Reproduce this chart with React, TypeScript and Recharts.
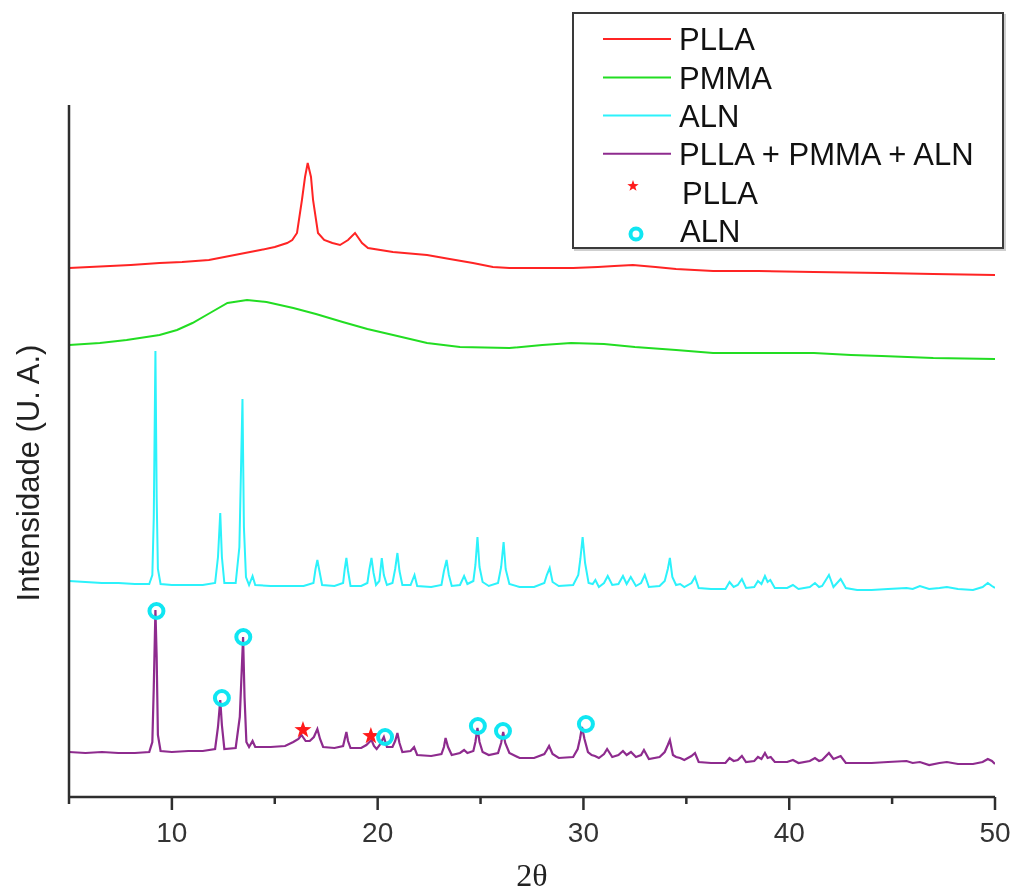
import React from 'react';
import { ComposedChart, Line, Scatter, XAxis, YAxis, Legend, Label } from 'recharts';

// X-ray diffractograms: [2θ (deg), intensity (a.u., traces offset vertically)]
const PLLA_CURVE: [number, number][] = [
  [5.0, 529], [6.0, 530], [7.0, 531], [8.0, 532], [9.4, 534], [10.5, 535], [11.8, 537], [12.8, 541],
  [14.3, 547], [15.0, 550], [15.6, 554], [15.85, 557], [16.08, 564], [16.32, 597], [16.47, 620],
  [16.6, 634], [16.76, 620], [16.86, 597], [17.1, 564], [17.4, 557], [17.8, 554], [18.17, 552],
  [18.56, 557], [18.9, 564], [19.24, 554], [19.53, 549], [20.74, 545], [22.4, 542], [23.5, 538],
  [24.63, 534], [25.6, 530], [26.4, 529], [27.5, 529], [28.3, 529], [29.5, 529], [30.7, 530],
  [31.5, 531], [32.4, 532], [33.5, 530], [34.5, 528], [36.3, 526], [38.5, 526], [41.2, 525],
  [44.5, 524], [47.0, 523], [50.0, 522],
];

const PMMA_CURVE: [number, number][] = [
  [5.0, 452], [6.5, 454], [7.8, 457], [9.4, 462], [10.25, 467], [11.0, 474], [11.85, 484],
  [12.7, 494], [13.65, 497], [14.6, 495], [15.9, 489], [17.0, 483], [18.3, 475], [19.5, 468],
  [20.75, 462], [22.4, 454], [24.0, 450], [26.4, 449], [28.0, 452], [29.4, 454], [31.0, 453],
  [32.5, 450], [34.5, 447], [36.3, 444], [38.5, 444], [41.2, 444], [43.0, 442], [44.5, 441],
  [47.0, 439], [50.0, 438],
];

const ALN_CURVE: [number, number][] = [
  [5.0, 216], [5.8, 215], [6.6, 214], [7.4, 214], [8.2, 213], [8.9, 213],
  [9.05, 222], [9.12, 280], [9.2, 446], [9.26, 300], [9.32, 228], [9.45, 213],
  [10.0, 212], [10.8, 212], [11.5, 212], [12.1, 214],
  [12.24, 240], [12.35, 284], [12.43, 240], [12.55, 214],
  [13.1, 214], [13.28, 250], [13.43, 398], [13.5, 270], [13.6, 220], [13.75, 212], [13.92, 221], [14.05, 212],
  [14.8, 211], [15.6, 211], [16.4, 211], [16.88, 214], [16.98, 228], [17.07, 237], [17.17, 226], [17.3, 212],
  [17.9, 211], [18.32, 214], [18.4, 228], [18.48, 239], [18.56, 226], [18.68, 211],
  [19.2, 211], [19.5, 214], [19.6, 228], [19.7, 239], [19.8, 224], [19.92, 212],
  [20.08, 216], [20.2, 239], [20.3, 222], [20.45, 212], [20.72, 214], [20.85, 228], [20.96, 244], [21.06, 226], [21.2, 212],
  [21.6, 212], [21.79, 222], [21.92, 211], [22.6, 210], [23.1, 212], [23.22, 226], [23.35, 237], [23.46, 222], [23.6, 211],
  [24.0, 212], [24.2, 221], [24.36, 213], [24.65, 216], [24.75, 232], [24.85, 260], [24.95, 230], [25.1, 215], [25.4, 211],
  [25.85, 214], [26.0, 230], [26.12, 255], [26.22, 228], [26.4, 213], [26.9, 210], [27.6, 210],
  [28.1, 214], [28.22, 222], [28.36, 229], [28.5, 215], [28.8, 211],
  [29.5, 212], [29.75, 222], [29.85, 238], [29.96, 260], [30.08, 234], [30.25, 214], [30.45, 213], [30.58, 217], [30.75, 210],
  [31.0, 214], [31.18, 221], [31.4, 212], [31.7, 213], [31.92, 221], [32.1, 213], [32.3, 220], [32.55, 211],
  [32.8, 214], [32.98, 222], [33.18, 210],
  [33.7, 211], [33.95, 216], [34.1, 228], [34.2, 239], [34.32, 220], [34.5, 212], [34.7, 213], [34.9, 210],
  [35.25, 214], [35.42, 220], [35.6, 209],
  [36.2, 208], [36.9, 208], [37.1, 215], [37.3, 210], [37.5, 212], [37.7, 218], [37.9, 209], [38.3, 210],
  [38.48, 216], [38.65, 213], [38.82, 221], [38.95, 215], [39.08, 217], [39.3, 209],
  [39.9, 209], [40.18, 212], [40.45, 208], [41.0, 210], [41.25, 214], [41.45, 210], [41.6, 211], [41.93, 222],
  [42.15, 210], [42.5, 218], [42.75, 209],
  [43.3, 207], [44.0, 207], [44.8, 208], [45.7, 209], [46.0, 208], [46.35, 211], [46.8, 208], [47.3, 209],
  [47.66, 210], [48.2, 208], [48.93, 207], [49.4, 210], [49.65, 214], [49.85, 211], [50.0, 209],
];

const BLEND_CURVE: [number, number][] = [
  [5.0, 45], [5.8, 44], [6.6, 45], [7.4, 44], [8.2, 44], [8.9, 45],
  [9.05, 55], [9.12, 110], [9.2, 187], [9.26, 140], [9.32, 62], [9.45, 46],
  [10.0, 45], [10.8, 46], [11.5, 46], [12.1, 48],
  [12.24, 70], [12.35, 97], [12.43, 72], [12.55, 48],
  [13.1, 49], [13.3, 80], [13.46, 160], [13.53, 100], [13.62, 55], [13.75, 50], [13.92, 56], [14.05, 50],
  [14.8, 50], [15.5, 51], [15.9, 55], [16.15, 58], [16.3, 62], [16.5, 56], [16.7, 56], [16.9, 60],
  [17.07, 68], [17.2, 58], [17.35, 50],
  [17.9, 49], [18.32, 51], [18.4, 58], [18.48, 65], [18.56, 56], [18.68, 49],
  [19.2, 49], [19.45, 52], [19.6, 55], [19.7, 57], [19.82, 51], [19.95, 48],
  [20.1, 52], [20.3, 60], [20.45, 50], [20.72, 50], [20.85, 56], [20.96, 64], [21.06, 54], [21.2, 45],
  [21.6, 46], [21.77, 50], [21.92, 42], [22.6, 41], [23.1, 43], [23.22, 50], [23.3, 59], [23.42, 50], [23.6, 42],
  [24.0, 44], [24.2, 47], [24.36, 44], [24.65, 46], [24.75, 55], [24.85, 69], [24.95, 55], [25.1, 45], [25.4, 42],
  [25.85, 44], [26.0, 54], [26.1, 65], [26.2, 54], [26.4, 44], [26.9, 39], [27.6, 39],
  [28.1, 43], [28.22, 47], [28.33, 51], [28.5, 43], [28.8, 39],
  [29.5, 40], [29.72, 48], [29.83, 58], [29.93, 70], [30.05, 58], [30.22, 45], [30.4, 42], [30.56, 41], [30.75, 39],
  [31.0, 43], [31.15, 48], [31.4, 40], [31.7, 42], [31.92, 46], [32.1, 42], [32.31, 45], [32.55, 40],
  [32.8, 42], [32.94, 47], [33.18, 38],
  [33.7, 40], [33.95, 45], [34.1, 52], [34.2, 57], [34.35, 42], [34.5, 40], [34.7, 39], [34.9, 37],
  [35.25, 41], [35.42, 44], [35.6, 35],
  [36.2, 34], [36.9, 34], [37.1, 39], [37.3, 36], [37.5, 37], [37.7, 41], [37.9, 35], [38.3, 36],
  [38.48, 40], [38.65, 38], [38.82, 44], [38.95, 39], [39.1, 40], [39.3, 35],
  [39.9, 35], [40.18, 37], [40.45, 34], [41.0, 36], [41.25, 39], [41.45, 36], [41.6, 37], [41.93, 44],
  [42.15, 38], [42.5, 41], [42.75, 34],
  [43.3, 34], [44.0, 34], [44.8, 35], [45.7, 36], [46.0, 34], [46.35, 35], [46.8, 32], [47.3, 34],
  [47.66, 35], [48.2, 33], [48.93, 33], [49.4, 35], [49.65, 38], [49.85, 36], [50.0, 33],
];

// Reflections identified in the blend
const PLLA_PEAK_MARKS: [number, number][] = [[16.37, 67], [19.67, 61]];
const ALN_PEAK_MARKS: [number, number][] = [
  [9.25, 186], [12.43, 99], [13.47, 160], [20.36, 60], [24.87, 71], [26.09, 66], [30.12, 73],
];

const X_TICKS = [5, 10, 15, 20, 25, 30, 35, 40, 45, 50];
const X_LABELED = [10, 20, 30, 40, 50];
const X_TITLE = '2θ';
const Y_TITLE = 'Intensidade (U. A.)';

const SERIES_NAMES = ['PLLA', 'PMMA', 'ALN', 'PLLA + PMMA + ALN'];
const MARKER_NAMES = ['PLLA', 'ALN'];

const RED = '#ff2424';
const GREEN = '#22dd22';
const CYAN = '#2cf2fb';
const PURPLE = '#8e2b8e';
const RING = '#10e6f2';
const STAR = '#ff1a1a';
const AXIS = '#2e2e2e';
const SANS = '"Liberation Sans", Arial, sans-serif';
const SERIF = '"Liberation Serif", "Times New Roman", serif';

const toRows = (pts: [number, number][]) => pts.map(([t, i]) => ({ t, i }));

const starPoints = (cx: number, cy: number, ro: number, ri: number) => {
  const pts: string[] = [];
  for (let k = 0; k < 10; k++) {
    const r = k % 2 === 0 ? ro : ri;
    const a = -Math.PI / 2 + (k * Math.PI) / 5;
    pts.push(`${cx + r * Math.cos(a)},${cy + r * Math.sin(a)}`);
  }
  return pts.join(' ');
};

const StarShape = (p: any) => (
  <polygon points={starPoints(p.cx, p.cy, 9, 3.6)} fill={STAR} />
);

const RingShape = (p: any) => (
  <circle cx={p.cx} cy={p.cy} r={7} fill="none" stroke={RING} strokeWidth={4} />
);

const XTick = (props: any) => {
  const { x, y, payload } = props;
  const major = X_LABELED.includes(payload.value);
  return (
    <g>
      <line x1={x} x2={x} y1={y} y2={y + (major ? 13 : 7)} stroke={AXIS} strokeWidth={2.5} />
      {major && (
        <text x={x} y={y + 45} textAnchor="middle" fontFamily={SANS} fontSize={28} fill="#333">
          {payload.value}
        </text>
      )}
    </g>
  );
};

const LegendBox = () => {
  const lineColors = [RED, GREEN, CYAN, PURPLE];
  const rowY = [27, 65.5, 103.5, 141.7];
  return (
    <svg width={436} height={242} style={{ display: 'block', overflow: 'visible' }}>
      <rect x={3} y={3} width={430} height={235} fill="none" stroke="#cfcfcf" strokeWidth={2} />
      <rect x={1} y={1} width={430} height={235} fill="#fff" stroke="#3a3a3a" strokeWidth={2} />
      {SERIES_NAMES.map((name, k) => (
        <g key={name + k}>
          <line x1={31} x2={99} y1={rowY[k]} y2={rowY[k]} stroke={lineColors[k]} strokeWidth={2} />
          <text x={107} y={rowY[k] + 11} fontFamily={SANS} fontSize={31} fill="#111">
            {name}
          </text>
        </g>
      ))}
      <polygon points={starPoints(61, 174, 6, 2.4)} fill={STAR} />
      <text x={110} y={191.5} fontFamily={SANS} fontSize={31} fill="#111">
        {MARKER_NAMES[0]}
      </text>
      <circle cx={64} cy={222} r={5.5} fill="none" stroke={RING} strokeWidth={4} />
      <text x={108} y={229.5} fontFamily={SANS} fontSize={31} fill="#111">
        {MARKER_NAMES[1]}
      </text>
    </svg>
  );
};

export default function App() {
  // fixed placement keeps the full-height figure from adding a page scrollbar
  return (
    <div style={{ position: 'fixed', left: 8, top: 8, width: 1004, height: 886 }}>
      <ComposedChart
        width={1004}
        height={886}
        margin={{ top: 97, right: 17, bottom: 0, left: 60 }}
      >
        <XAxis
          dataKey="t"
          type="number"
          domain={[5, 50]}
          allowDataOverflow
          ticks={X_TICKS}
          interval={0}
          height={97}
          tickSize={0}
          tickMargin={0}
          tickLine={false}
          tick={<XTick />}
          axisLine={{ stroke: AXIS, strokeWidth: 2.5 }}
        >
          <Label
            content={() => (
              <text x={524} y={878} textAnchor="middle" fontFamily={SERIF} fontSize={32} fill="#222">
                {X_TITLE}
              </text>
            )}
          />
        </XAxis>
        <YAxis
          type="number"
          domain={[0, 692]}
          allowDataOverflow
          width={1}
          tick={false}
          tickLine={false}
          axisLine={{ stroke: AXIS, strokeWidth: 2.5 }}
        >
          <Label
            content={() => (
              <text
                transform="translate(31, 465) rotate(-90)"
                textAnchor="middle"
                fontFamily={SANS}
                fontSize={31}
                fill="#222"
              >
                {Y_TITLE}
              </text>
            )}
          />
        </YAxis>
        <Legend
          layout="vertical"
          align="center"
          verticalAlign="middle"
          content={() => <LegendBox />}
          wrapperStyle={{ left: 564, top: 4, width: 436, height: 242 }}
        />
        <Line data={toRows(PLLA_CURVE)} dataKey="i" name={SERIES_NAMES[0]} type="linear" stroke={RED} strokeWidth={2} dot={false} isAnimationActive={false} />
        <Line data={toRows(PMMA_CURVE)} dataKey="i" name={SERIES_NAMES[1]} type="linear" stroke={GREEN} strokeWidth={2} dot={false} isAnimationActive={false} />
        <Line data={toRows(ALN_CURVE)} dataKey="i" name={SERIES_NAMES[2]} type="linear" stroke={CYAN} strokeWidth={2} dot={false} isAnimationActive={false} />
        <Line data={toRows(BLEND_CURVE)} dataKey="i" name={SERIES_NAMES[3]} type="linear" stroke={PURPLE} strokeWidth={2.2} dot={false} isAnimationActive={false} />
        <Scatter data={toRows(PLLA_PEAK_MARKS)} dataKey="i" name={MARKER_NAMES[0]} shape={StarShape} isAnimationActive={false} />
        <Scatter data={toRows(ALN_PEAK_MARKS)} dataKey="i" name={MARKER_NAMES[1]} shape={RingShape} isAnimationActive={false} />
      </ComposedChart>
    </div>
  );
}
